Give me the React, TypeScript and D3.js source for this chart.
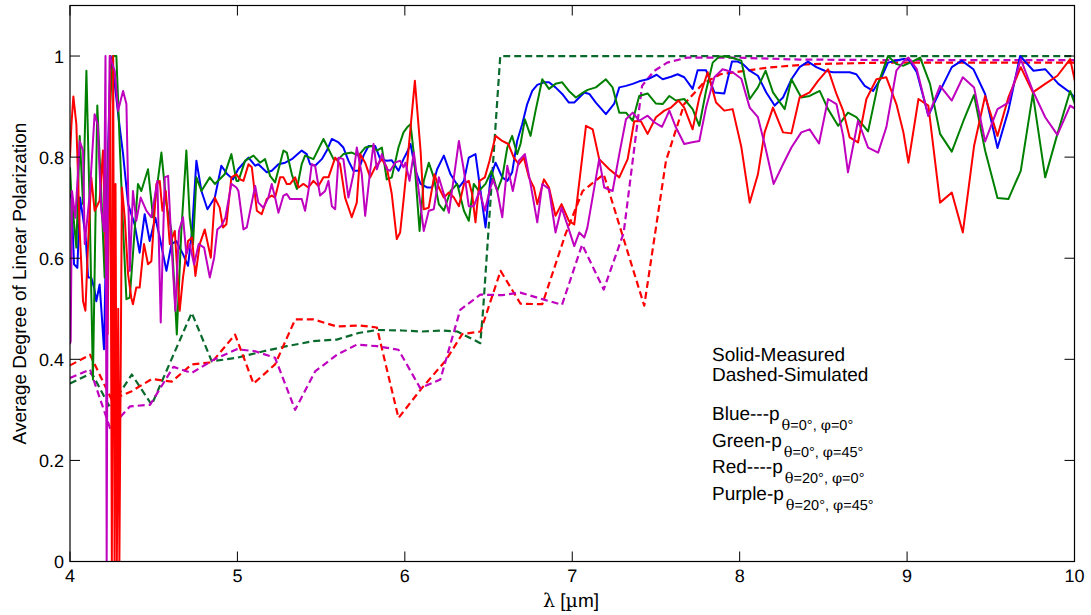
import React from "react";
import * as d3 from "d3";

type P = [number, number];

const xTicks = [4, 5, 6, 7, 8, 9, 10];
const yTicks = [0, 0.2, 0.4, 0.6, 0.8, 1];
const yTickLabels = ["0", "0.2", "0.4", "0.6", "0.8", "1"];

const blueMeasured: P[] = [[4.000,0.720],[4.008,0.727],[4.024,0.588],[4.044,0.581],[4.060,0.720],[4.078,0.680],[4.094,0.640],[4.108,0.562],[4.127,0.562],[4.145,0.540],[4.157,0.515],[4.177,0.548],[4.187,0.500],[4.203,0.420],[4.223,0.760],[4.243,1.000],[4.267,0.945],[4.297,0.859],[4.317,0.806],[4.347,0.707],[4.386,0.667],[4.416,0.611],[4.446,0.687],[4.476,0.634],[4.510,0.680],[4.536,0.641],[4.576,0.575],[4.606,0.628],[4.635,0.634],[4.675,0.608],[4.705,0.585],[4.729,0.654],[4.755,0.793],[4.785,0.733],[4.821,0.697],[4.865,0.720],[4.904,0.783],[4.940,0.766],[4.974,0.756],[5.004,0.776],[5.066,0.799],[5.106,0.783],[5.125,0.786],[5.175,0.770],[5.205,0.773],[5.245,0.786],[5.285,0.789],[5.325,0.796],[5.384,0.813],[5.414,0.806],[5.434,0.786],[5.464,0.783],[5.504,0.796],[5.534,0.813],[5.564,0.836],[5.604,0.829],[5.633,0.819],[5.663,0.793],[5.693,0.773],[5.723,0.773],[5.753,0.803],[5.783,0.822],[5.823,0.822],[5.853,0.796],[5.892,0.793],[5.922,0.794],[5.962,0.773],[5.992,0.796],[6.014,0.810],[6.034,0.826],[6.064,0.773],[6.094,0.747],[6.133,0.740],[6.163,0.740],[6.193,0.776],[6.233,0.803],[6.273,0.766],[6.323,0.740],[6.353,0.753],[6.382,0.799],[6.422,0.806],[6.452,0.733],[6.482,0.661],[6.512,0.760],[6.542,0.789],[6.582,0.760],[6.612,0.753],[6.641,0.770],[6.671,0.832],[6.701,0.865],[6.731,0.905],[6.761,0.931],[6.791,0.943],[6.831,0.948],[6.861,0.948],[6.900,0.938],[6.940,0.925],[6.980,0.908],[7.012,0.908],[7.042,0.918],[7.072,0.928],[7.102,0.925],[7.141,0.908],[7.201,0.885],[7.251,0.906],[7.281,0.938],[7.321,0.941],[7.361,0.945],[7.400,0.950],[7.450,0.954],[7.504,0.963],[7.540,0.954],[7.590,0.959],[7.629,0.964],[7.669,0.958],[7.719,0.935],[7.749,0.972],[7.799,0.972],[7.849,0.928],[7.908,0.926],[7.954,0.989],[7.988,0.989],[8.020,0.984],[8.060,0.971],[8.109,0.961],[8.159,0.928],[8.209,0.902],[8.259,0.918],[8.309,0.954],[8.358,0.978],[8.408,0.989],[8.458,0.978],[8.508,0.971],[8.558,0.968],[8.607,0.968],[8.657,0.968],[8.697,0.964],[8.747,0.941],[8.797,0.931],[8.847,0.958],[8.886,0.987],[8.936,0.991],[8.978,0.994],[9.008,0.994],[9.058,0.968],[9.127,0.882],[9.197,0.931],[9.267,0.978],[9.327,0.991],[9.396,0.974],[9.466,0.925],[9.540,0.818],[9.605,0.892],[9.675,1.000],[9.755,0.971],[9.825,0.974],[9.904,0.945],[9.974,0.928],[10.006,0.915]];

const greenMeasured: P[] = [[4.000,0.780],[4.008,0.727],[4.038,0.621],[4.058,0.842],[4.078,0.707],[4.098,0.971],[4.117,0.707],[4.137,0.360],[4.163,0.902],[4.187,0.727],[4.207,0.562],[4.237,0.892],[4.257,1.000],[4.277,1.000],[4.297,0.826],[4.317,0.661],[4.337,0.519],[4.357,0.522],[4.386,0.654],[4.406,0.747],[4.426,0.733],[4.466,0.776],[4.496,0.681],[4.546,0.809],[4.576,0.707],[4.606,0.654],[4.638,0.449],[4.665,0.654],[4.695,0.813],[4.715,0.681],[4.735,0.628],[4.755,0.760],[4.785,0.733],[4.835,0.760],[4.865,0.747],[4.924,0.766],[4.964,0.806],[4.994,0.753],[5.006,0.753],[5.046,0.793],[5.096,0.803],[5.135,0.789],[5.165,0.796],[5.195,0.763],[5.225,0.750],[5.275,0.813],[5.295,0.809],[5.325,0.766],[5.355,0.737],[5.384,0.786],[5.404,0.803],[5.454,0.796],[5.514,0.836],[5.544,0.816],[5.574,0.796],[5.604,0.796],[5.633,0.806],[5.683,0.809],[5.723,0.803],[5.763,0.819],[5.803,0.822],[5.833,0.813],[5.863,0.819],[5.892,0.756],[5.922,0.760],[5.962,0.819],[5.992,0.849],[6.014,0.859],[6.034,0.865],[6.054,0.806],[6.088,0.654],[6.113,0.753],[6.143,0.789],[6.173,0.760],[6.203,0.707],[6.233,0.694],[6.273,0.733],[6.313,0.747],[6.353,0.694],[6.382,0.674],[6.412,0.747],[6.442,0.733],[6.482,0.747],[6.518,0.773],[6.552,0.733],[6.582,0.760],[6.612,0.819],[6.641,0.842],[6.671,0.806],[6.691,0.826],[6.717,0.875],[6.751,0.842],[6.781,0.892],[6.821,0.954],[6.861,0.935],[6.900,0.945],[6.940,0.948],[6.980,0.931],[7.022,0.918],[7.052,0.925],[7.092,0.933],[7.141,0.938],[7.201,0.954],[7.241,0.938],[7.281,0.888],[7.321,0.888],[7.361,0.872],[7.400,0.921],[7.450,0.926],[7.500,0.906],[7.540,0.905],[7.580,0.921],[7.619,0.912],[7.669,0.915],[7.719,0.895],[7.759,0.862],[7.799,0.931],[7.839,0.987],[7.878,0.999],[7.918,0.999],[7.958,0.996],[8.010,0.991],[8.030,0.958],[8.060,0.915],[8.109,0.938],[8.155,0.971],[8.199,0.928],[8.269,0.895],[8.309,0.954],[8.368,0.918],[8.418,0.921],[8.478,0.931],[8.528,0.895],[8.588,0.862],[8.647,0.888],[8.697,0.879],[8.767,0.851],[8.827,0.945],[8.886,1.000],[8.936,0.984],[8.978,0.981],[9.018,0.987],[9.078,0.997],[9.137,0.945],[9.197,0.846],[9.267,0.811],[9.337,0.872],[9.400,0.923],[9.466,0.813],[9.540,0.719],[9.605,0.717],[9.679,0.773],[9.751,0.925],[9.825,0.760],[9.898,0.846],[9.974,0.931],[10.006,0.902]];

const redMeasured: P[] = [[4.000,0.800],[4.008,0.861],[4.020,0.920],[4.038,0.865],[4.058,0.654],[4.078,0.515],[4.092,0.496],[4.108,0.628],[4.127,0.760],[4.147,0.694],[4.177,0.714],[4.197,0.813],[4.211,0.628],[4.225,0.450],[4.240,1.000],[4.250,0.000],[4.258,1.000],[4.266,0.000],[4.272,0.747],[4.280,0.000],[4.288,0.500],[4.295,0.000],[4.310,0.740],[4.327,0.680],[4.347,0.568],[4.366,0.522],[4.376,0.509],[4.396,0.542],[4.416,0.542],[4.442,0.628],[4.466,0.588],[4.486,0.594],[4.516,0.747],[4.536,0.753],[4.552,0.694],[4.572,0.733],[4.596,0.628],[4.626,0.654],[4.655,0.496],[4.675,0.562],[4.705,0.634],[4.729,0.641],[4.749,0.565],[4.775,0.628],[4.805,0.657],[4.841,0.601],[4.865,0.720],[4.894,0.700],[4.914,0.661],[4.934,0.667],[4.964,0.760],[4.994,0.766],[5.016,0.756],[5.036,0.753],[5.066,0.786],[5.086,0.780],[5.116,0.694],[5.145,0.687],[5.175,0.717],[5.205,0.724],[5.225,0.720],[5.255,0.760],[5.275,0.760],[5.295,0.747],[5.315,0.747],[5.345,0.760],[5.365,0.740],[5.394,0.747],[5.424,0.740],[5.454,0.753],[5.484,0.743],[5.514,0.760],[5.544,0.760],[5.584,0.799],[5.613,0.786],[5.643,0.720],[5.683,0.681],[5.713,0.710],[5.733,0.806],[5.763,0.789],[5.793,0.760],[5.823,0.780],[5.863,0.796],[5.892,0.780],[5.922,0.727],[5.952,0.638],[5.972,0.651],[5.992,0.714],[6.014,0.786],[6.060,0.951],[6.094,0.813],[6.113,0.697],[6.143,0.700],[6.177,0.766],[6.203,0.740],[6.233,0.720],[6.263,0.730],[6.293,0.720],[6.323,0.703],[6.353,0.747],[6.382,0.753],[6.402,0.727],[6.422,0.671],[6.446,0.753],[6.478,0.760],[6.506,0.793],[6.542,0.842],[6.582,0.832],[6.618,0.826],[6.651,0.799],[6.681,0.786],[6.711,0.799],[6.741,0.760],[6.771,0.740],[6.791,0.707],[6.831,0.756],[6.861,0.740],[6.900,0.684],[6.936,0.707],[6.980,0.674],[7.012,0.667],[7.082,0.862],[7.122,0.855],[7.161,0.796],[7.221,0.776],[7.281,0.760],[7.331,0.796],[7.370,0.871],[7.410,0.871],[7.450,0.846],[7.500,0.879],[7.550,0.892],[7.590,0.898],[7.635,0.912],[7.669,0.898],[7.719,0.855],[7.759,0.918],[7.809,0.968],[7.859,0.908],[7.908,0.892],[7.958,0.895],[8.010,0.820],[8.060,0.710],[8.109,0.766],[8.149,0.849],[8.199,0.898],[8.259,0.849],[8.309,0.847],[8.358,0.918],[8.418,0.928],[8.468,0.951],[8.528,0.974],[8.578,0.925],[8.618,0.892],[8.657,0.839],[8.707,0.829],[8.757,0.915],[8.817,0.954],[8.876,0.958],[8.936,0.905],[8.978,0.849],[9.008,0.789],[9.068,0.915],[9.127,0.902],[9.197,0.710],[9.267,0.730],[9.333,0.651],[9.400,0.822],[9.466,0.921],[9.540,0.842],[9.605,0.918],[9.679,0.978],[9.751,0.928],[9.825,0.945],[9.898,0.961],[9.974,0.994],[10.006,0.945]];

const purpleMeasured: P[] = [[4.000,0.430],[4.004,0.436],[4.012,0.733],[4.032,0.680],[4.058,0.832],[4.078,0.813],[4.088,0.628],[4.118,0.727],[4.147,0.885],[4.165,0.865],[4.187,0.694],[4.203,0.654],[4.212,1.000],[4.219,0.000],[4.226,0.700],[4.237,1.000],[4.267,0.971],[4.287,0.892],[4.317,0.931],[4.337,0.905],[4.357,0.575],[4.376,0.733],[4.396,0.674],[4.422,0.720],[4.456,0.694],[4.486,0.681],[4.522,0.753],[4.542,0.473],[4.566,0.760],[4.586,0.763],[4.606,0.628],[4.629,0.496],[4.651,0.654],[4.675,0.681],[4.695,0.608],[4.715,0.628],[4.741,0.588],[4.769,0.628],[4.801,0.621],[4.835,0.562],[4.861,0.601],[4.880,0.657],[4.904,0.664],[4.928,0.680],[4.964,0.747],[4.994,0.740],[5.006,0.733],[5.036,0.657],[5.056,0.661],[5.076,0.694],[5.106,0.743],[5.125,0.710],[5.155,0.700],[5.185,0.720],[5.205,0.747],[5.225,0.720],[5.245,0.690],[5.275,0.724],[5.295,0.727],[5.315,0.717],[5.355,0.717],[5.384,0.717],[5.404,0.694],[5.424,0.733],[5.444,0.786],[5.464,0.783],[5.494,0.724],[5.524,0.733],[5.544,0.753],[5.564,0.703],[5.584,0.697],[5.604,0.799],[5.633,0.796],[5.663,0.720],[5.693,0.766],[5.713,0.819],[5.743,0.766],[5.763,0.684],[5.793,0.773],[5.813,0.826],[5.833,0.776],[5.863,0.806],[5.892,0.776],[5.912,0.773],[5.942,0.789],[5.972,0.793],[5.992,0.780],[6.004,0.789],[6.028,0.753],[6.054,0.809],[6.088,0.720],[6.113,0.654],[6.143,0.694],[6.173,0.697],[6.203,0.760],[6.233,0.727],[6.263,0.690],[6.293,0.760],[6.323,0.832],[6.353,0.773],[6.382,0.703],[6.412,0.703],[6.446,0.733],[6.478,0.694],[6.506,0.733],[6.526,0.756],[6.552,0.733],[6.582,0.681],[6.612,0.783],[6.645,0.733],[6.681,0.793],[6.717,0.806],[6.751,0.747],[6.791,0.671],[6.821,0.747],[6.861,0.737],[6.900,0.651],[6.936,0.700],[6.970,0.667],[7.012,0.624],[7.042,0.651],[7.072,0.641],[7.090,0.660],[7.161,0.796],[7.191,0.740],[7.241,0.733],[7.281,0.806],[7.321,0.875],[7.361,0.888],[7.400,0.872],[7.450,0.882],[7.490,0.869],[7.536,0.860],[7.580,0.892],[7.619,0.859],[7.669,0.826],[7.709,0.829],[7.759,0.832],[7.799,0.898],[7.849,0.958],[7.898,0.974],[7.958,0.968],[8.010,0.955],[8.060,0.898],[8.109,0.879],[8.149,0.826],[8.203,0.747],[8.259,0.786],[8.309,0.819],[8.368,0.849],[8.418,0.855],[8.474,0.827],[8.528,0.915],[8.578,0.905],[8.618,0.842],[8.647,0.770],[8.707,0.872],[8.767,0.819],[8.827,0.809],[8.876,0.859],[8.936,0.971],[8.986,0.992],[9.008,0.997],[9.058,0.974],[9.127,0.882],[9.197,0.941],[9.267,0.912],[9.333,0.958],[9.400,0.938],[9.466,0.831],[9.540,0.895],[9.605,0.908],[9.679,0.994],[9.751,0.931],[9.825,0.879],[9.898,0.844],[9.974,0.902],[10.006,0.895]];

const greenSimulated: P[] = [[4.000,0.352],[4.130,0.373],[4.240,0.304],[4.369,0.370],[4.488,0.310],[4.727,0.492],[4.847,0.396],[4.996,0.403],[5.156,0.416],[5.295,0.426],[5.454,0.436],[5.594,0.439],[5.723,0.452],[5.833,0.458],[5.984,0.457],[6.104,0.455],[6.223,0.457],[6.313,0.455],[6.451,0.432],[6.468,0.500],[6.570,1.000],[7.000,1.000],[8.000,1.000],[9.000,1.000],[10.000,1.000]];

const redSimulated: P[] = [[4.000,0.388],[4.120,0.409],[4.249,0.320],[4.369,0.337],[4.488,0.361],[4.608,0.356],[4.727,0.390],[4.847,0.394],[4.986,0.449],[5.096,0.352],[5.225,0.390],[5.345,0.479],[5.454,0.479],[5.594,0.465],[5.723,0.467],[5.833,0.463],[5.962,0.284],[6.104,0.344],[6.243,0.397],[6.343,0.450],[6.452,0.455],[6.572,0.575],[6.691,0.510],[6.821,0.509],[6.960,0.648],[7.062,0.733],[7.188,0.766],[7.430,0.506],[7.560,0.793],[7.669,0.905],[7.779,0.945],[7.885,0.964],[8.164,0.977],[8.423,0.984],[8.861,0.987],[10.000,0.987]];

const purpleSimulated: P[] = [[4.000,0.363],[4.120,0.380],[4.239,0.264],[4.359,0.307],[4.478,0.310],[4.618,0.385],[4.727,0.373],[4.857,0.399],[4.996,0.420],[5.106,0.416],[5.225,0.403],[5.345,0.300],[5.464,0.376],[5.594,0.409],[5.713,0.429],[5.833,0.426],[5.962,0.419],[6.092,0.343],[6.212,0.360],[6.331,0.498],[6.451,0.528],[6.582,0.527],[6.690,0.532],[6.821,0.519],[6.939,0.508],[7.059,0.627],[7.188,0.538],[7.307,0.650],[7.417,0.941],[7.487,0.970],[7.567,0.987],[7.686,0.997],[7.960,0.997],[8.360,0.993],[8.880,0.992],[10.000,0.992]];

const legendLabels = ["Blue---p", "Green-p", "Red----p", "Purple-p"];
const legendTheta = ["0", "0", "20", "20"];
const legendPhi = ["0", "45", "0", "45"];

const W = 1091;
const H = 615;
const FONT = "'Liberation Sans', Arial, Helvetica, sans-serif";
const SERIF = "'DejaVu Serif', 'Liberation Serif', serif";

export default function App() {
  const x = d3.scaleLinear().domain([4, 10]).range([70, 1074.5]);
  const y = d3.scaleLinear().domain([0, 1.1]).range([561.5, 5.5]);
  const line = d3.line<P>().x((d) => x(d[0])).y((d) => y(d[1]));

  const left = x(4), right = x(10), top = y(1.1), bottom = y(0);
  const tick = 10;

  const dashed = [
    { data: greenSimulated, color: "#0a6a2c" },
    { data: redSimulated, color: "#ff0000" },
    { data: purpleSimulated, color: "#bf00bf" },
  ];
  const solid = [
    { data: blueMeasured, color: "#0000ff" },
    { data: greenMeasured, color: "#008000" },
    { data: redMeasured, color: "#ff0000" },
    { data: purpleMeasured, color: "#bf00bf" },
  ];

  return (
    <svg width={W} height={H} style={{ position: "absolute", left: 0, top: 0, background: "#fff" }} fontFamily={FONT} textRendering="geometricPrecision">
      <defs>
        <clipPath id="plotClip">
          <rect x={left} y={top} width={right - left} height={bottom - top} />
        </clipPath>
      </defs>
      <rect x={0} y={0} width={W} height={H} fill="#fff" />
      <g clipPath="url(#plotClip)" fill="none" strokeLinejoin="round">
        {dashed.map((s, i) => (
          <path key={"d" + i} d={line(s.data) || ""} stroke={s.color} strokeWidth={2.2} strokeDasharray="7,4" />
        ))}
        {solid.map((s, i) => (
          <path key={"s" + i} d={line(s.data) || ""} stroke={s.color} strokeWidth={2} />
        ))}
      </g>
      <rect x={left} y={top} width={right - left} height={bottom - top} fill="none" stroke="#000" strokeWidth={1.2} />
      {xTicks.map((t) => (
        <g key={"xt" + t}>
          <line x1={x(t)} x2={x(t)} y1={bottom} y2={bottom - tick} stroke="#000" strokeWidth={1} />
          <line x1={x(t)} x2={x(t)} y1={top} y2={top + tick} stroke="#000" strokeWidth={1} />
          <text x={x(t)} y={bottom + 20} textAnchor="middle" fontSize={18} fill="#000">{t}</text>
        </g>
      ))}
      {yTicks.map((t, i) => (
        <g key={"yt" + t}>
          <line x1={left} x2={left + tick} y1={y(t)} y2={y(t)} stroke="#000" strokeWidth={1} />
          <line x1={right} x2={right - tick} y1={y(t)} y2={y(t)} stroke="#000" strokeWidth={1} />
          <text x={left - 6} y={y(t) + 6.5} textAnchor="end" fontSize={18} fill="#000">{yTickLabels[i]}</text>
        </g>
      ))}
      <text x={571} y={607} textAnchor="middle" fontSize={19} fill="#000">
        <tspan fontFamily={SERIF}>λ</tspan> [<tspan fontFamily={SERIF}>µ</tspan>m]
      </text>
      <text transform={`translate(26, ${(top + bottom) / 2}) rotate(-90)`} textAnchor="middle" fontSize={19} fill="#000">
        Average Degree of Linear Polarization
      </text>
      <text x={712} y={361} fontSize={19} fill="#000">Solid-Measured</text>
      <text x={712} y={381} fontSize={19} fill="#000">Dashed-Simulated</text>
      {legendLabels.map((lab, i) => (
        <text key={"lg" + i} x={712} y={420 + i * 26.5} fontSize={19} fill="#000">
          {lab}
          <tspan dx={2} dy={10} fontSize={14.5}>
            <tspan fontFamily={SERIF}>θ</tspan>={legendTheta[i]}°, <tspan fontFamily={SERIF}>φ</tspan>={legendPhi[i]}°
          </tspan>
        </text>
      ))}
    </svg>
  );
}
